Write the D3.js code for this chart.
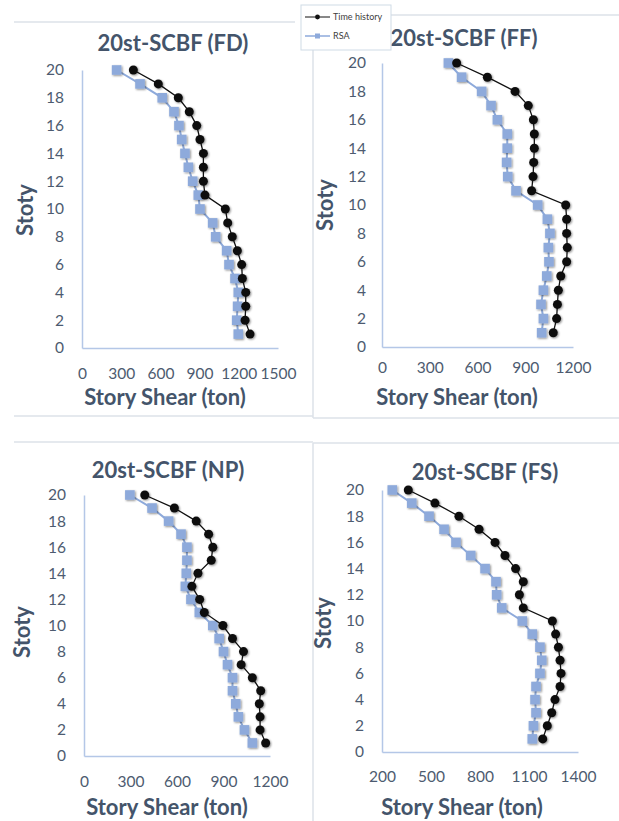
<!DOCTYPE html>
<html>
<head>
<meta charset="utf-8">
<script src="https://cdn.jsdelivr.net/npm/d3@7"></script>
<style>
  body { margin: 0; background: #fff; }
  svg { display: block; font-family: Lato, "Open Sans", sans-serif; }
  .tick text { fill: #4d5b70; font-size: 15.5px; }
  .ttl { fill: #44546a; font-weight: bold; font-size: 22px; }
  .lab { fill: #44546a; font-weight: bold; font-size: 22px; }
</style>
</head>
<body>
<svg id="chart" width="619" height="821"></svg>
<script>
var stories = [20, 19, 18, 17, 16, 15, 14, 13, 12, 11, 10, 9, 8, 7, 6, 5, 4, 3, 2, 1];

// story shear (ton), from story 20 down to story 1
var fdTime = [393, 584, 737, 821, 878, 903, 929, 929, 929, 941, 1097, 1115, 1150, 1189, 1222, 1227, 1253, 1253, 1248, 1286];
var fdRsa  = [265, 444, 614, 704, 742, 763, 788, 814, 847, 890, 903, 1000, 1023, 1107, 1125, 1171, 1196, 1191, 1184, 1196];

var ffTime = [469, 662, 836, 919, 951, 957, 957, 953, 949, 940, 1154, 1160, 1160, 1164, 1160, 1123, 1108, 1102, 1097, 1076];
var ffRsa  = [417, 500, 626, 685, 725, 787, 787, 783, 790, 842, 978, 1039, 1055, 1045, 1049, 1035, 1014, 999, 1014, 1003];

var npTime = [392, 583, 724, 804, 831, 821, 735, 696, 746, 776, 896, 958, 1029, 1014, 1086, 1140, 1131, 1136, 1136, 1172];
var npRsa  = [296, 439, 546, 626, 664, 664, 660, 654, 690, 744, 831, 872, 900, 926, 958, 958, 979, 996, 1035, 1086];

var fsTime = [361, 524, 671, 794, 892, 953, 1018, 1065, 1041, 1065, 1243, 1263, 1280, 1290, 1296, 1290, 1259, 1239, 1212, 1184];
var fsRsa  = [263, 382, 488, 580, 653, 743, 831, 898, 902, 933, 1059, 1120, 1167, 1178, 1167, 1143, 1137, 1143, 1127, 1120];

var titles = ["20st-SCBF (FD)", "20st-SCBF (FF)", "20st-SCBF (NP)", "20st-SCBF (FS)"];
var xTicksFD = [0, 300, 600, 900, 1200, 1500];
var xTicksFF = [0, 300, 600, 900, 1200];
var xTicksNP = [0, 300, 600, 900, 1200];
var xTicksFS = [200, 500, 800, 1100, 1400];
var yTicks = [0, 2, 4, 6, 8, 10, 12, 14, 16, 18, 20];
var legendNames = ["Time history", "RSA"];

var svg = d3.select("#chart");

var blackCol = "#111", blueCol = "#8eaadb", axisCol = "#b4c7e7", frameCol = "#dde2e8";

// soft shadow like the excel markers
var defs = svg.append("defs");
var f = defs.append("filter").attr("id", "sh").attr("x", "-50%").attr("y", "-50%").attr("width", "200%").attr("height", "200%");
f.append("feGaussianBlur").attr("in", "SourceAlpha").attr("stdDeviation", 1.2).attr("result", "b");
f.append("feOffset").attr("dx", 1).attr("dy", 1).attr("result", "o");
f.append("feComponentTransfer").append("feFuncA").attr("type", "linear").attr("slope", 0.45);
var fm = f.append("feMerge");
fm.append("feMergeNode");
fm.append("feMergeNode").attr("in", "SourceGraphic");

// chart area frame lines
var frames = [
  [14, 22, 295, 22], [14, 416, 313, 416], [14, 442, 313, 442],
  [313, 15, 313, 418], [391, 15, 619, 15], [313, 418, 619, 418],
  [313, 443, 619, 443], [313, 443, 313, 821]
];
svg.selectAll(".frame").data(frames).enter().append("line")
  .attr("class", "frame")
  .attr("x1", function(d){ return d[0]; }).attr("y1", function(d){ return d[1]; })
  .attr("x2", function(d){ return d[2]; }).attr("y2", function(d){ return d[3]; })
  .attr("stroke", frameCol).attr("stroke-width", 1.5);

var panels = [
  {title: titles[0], time: fdTime, rsa: fdRsa, ticks: xTicksFD, x0: 82, x1: 278, y0: 348, y1: 70,
   tx: 173, ty: 43, xpad: 20, ypad: 18, xlx: 165, xly: 397, ylx: 25, yly: 210},
  {title: titles[1], time: ffTime, rsa: ffRsa, ticks: xTicksFF, x0: 382, x1: 573, y0: 347, y1: 63,
   tx: 464, ty: 38, xpad: 15, ypad: 16, xlx: 457, xly: 397, ylx: 325, yly: 205},
  {title: titles[2], time: npTime, rsa: npRsa, ticks: xTicksNP, x0: 84, x1: 270, y0: 756, y1: 495,
   tx: 168, ty: 470, xpad: 20, ypad: 18, xlx: 167, xly: 807, ylx: 22, yly: 632},
  {title: titles[3], time: fsTime, rsa: fsRsa, ticks: xTicksFS, x0: 382, x1: 578, y0: 752, y1: 490,
   tx: 485, ty: 472, xpad: 19, ypad: 18, xlx: 462, xly: 807, ylx: 323, yly: 623}
];

panels.forEach(function(p) {
  var xs = d3.scaleLinear().domain([p.ticks[0], p.ticks[p.ticks.length - 1]]).range([p.x0, p.x1]);
  var ys = d3.scaleLinear().domain([0, 20]).range([p.y0, p.y1]);

  var g = svg.append("g");

  g.append("text").attr("class", "ttl")
    .attr("x", p.tx).attr("y", p.ty).attr("dy", "0.35em")
    .attr("text-anchor", "middle").text(p.title);

  var xa = g.append("g").attr("transform", "translate(0," + p.y0 + ")")
    .call(d3.axisBottom(xs).tickValues(p.ticks).tickFormat(d3.format("d")).tickSize(0).tickPadding(p.xpad));
  var ya = g.append("g").attr("transform", "translate(" + p.x0 + ",0)")
    .call(d3.axisLeft(ys).tickValues(yTicks).tickFormat(d3.format("d")).tickSize(0).tickPadding(p.ypad));
  [xa, ya].forEach(function(a) {
    a.select(".domain").attr("stroke", axisCol).attr("stroke-width", 1.5);
    a.selectAll(".tick text").style("font-family", "Lato, 'Open Sans', sans-serif");
  });

  g.append("text").attr("class", "lab")
    .attr("x", p.xlx).attr("y", p.xly).attr("dy", "0.35em")
    .attr("text-anchor", "middle").text("Story Shear (ton)");
  g.append("text").attr("class", "lab")
    .attr("transform", "translate(" + p.ylx + "," + p.yly + ") rotate(-90)")
    .attr("dy", "0.35em").attr("text-anchor", "middle").text("Stoty");

  var line = d3.line()
    .x(function(d){ return xs(d[0]); })
    .y(function(d){ return ys(d[1]); });

  var rsaPts = p.rsa.map(function(v, i){ return [v, stories[i]]; });
  var timePts = p.time.map(function(v, i){ return [v, stories[i]]; });

  g.append("path").datum(rsaPts).attr("d", line)
    .attr("fill", "none").attr("stroke", blueCol).attr("stroke-width", 2);
  g.selectAll(".sq").data(rsaPts).enter().append("rect")
    .attr("x", function(d){ return xs(d[0]) - 4.8; })
    .attr("y", function(d){ return ys(d[1]) - 4.8; })
    .attr("width", 9.6).attr("height", 9.6)
    .attr("fill", blueCol).attr("filter", "url(#sh)");

  g.append("path").datum(timePts).attr("d", line)
    .attr("fill", "none").attr("stroke", blackCol).attr("stroke-width", 1.3);
  g.selectAll(".dot").data(timePts).enter().append("circle")
    .attr("cx", function(d){ return xs(d[0]); })
    .attr("cy", function(d){ return ys(d[1]); })
    .attr("r", 4.5).attr("fill", blackCol).attr("filter", "url(#sh)");
});

// legend box, drawn over the FF title like in the source
var lg = svg.append("g").attr("transform", "translate(301,5)");
lg.append("rect").attr("width", 90).attr("height", 45)
  .attr("fill", "#fff").attr("stroke", "#cfdbe6").attr("stroke-width", 1);
var items = lg.selectAll(".li").data(legendNames).enter().append("g")
  .attr("transform", function(d, i){ return "translate(0," + (12 + i * 19) + ")"; });
items.append("line").attr("x1", 4).attr("x2", 29)
  .attr("stroke", function(d, i){ return i ? blueCol : blackCol; })
  .attr("stroke-width", function(d, i){ return i ? 1.5 : 1; });
items.each(function(d, i) {
  var it = d3.select(this);
  if (i) it.append("rect").attr("x", 14).attr("y", -2.5).attr("width", 5).attr("height", 5).attr("fill", blueCol);
  else it.append("circle").attr("cx", 16.5).attr("r", 2.4).attr("fill", blackCol);
});
items.append("text").attr("x", 32).attr("dy", "0.35em")
  .style("font-size", "9px").attr("fill", "#404040").text(function(d){ return d; });
</script>
</body>
</html>
